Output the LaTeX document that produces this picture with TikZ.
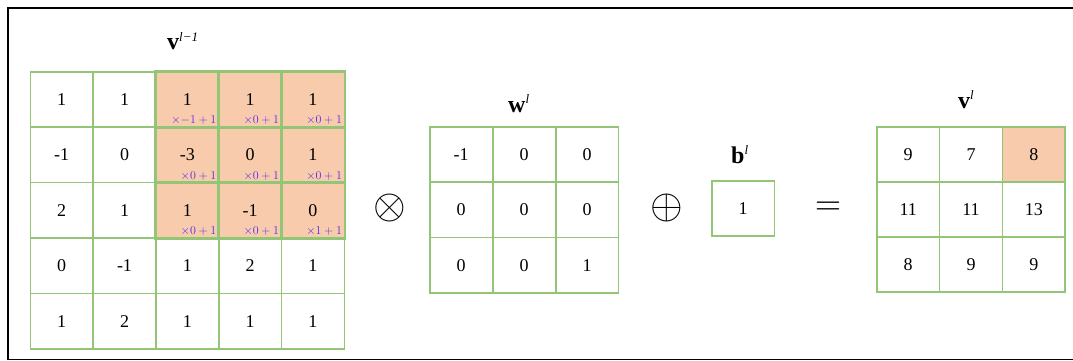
\documentclass[tikz,border=0pt]{standalone}
\usepackage{fontspec}
\setmainfont{Liberation Serif}
\definecolor{gridgreen}{RGB}{146,198,118}
\definecolor{peach}{RGB}{248,203,173}
\definecolor{annot}{RGB}{85,40,235}
\newcommand\boldlab[2]{{\fontsize{24}{24}\selectfont\bfseries #1}\raisebox{8.5pt}{\fontsize{13}{13}\selectfont\itshape #2}}
\tikzset{
  cell/.style={draw=gridgreen, line width=1.6pt, minimum width=62.8pt, minimum height=55.4pt,
    inner sep=0pt, font=\fontsize{18}{18}\selectfont, anchor=north west},
  hot/.style={fill=peach},
  ann/.style={font=\fontsize{12.5}{12.5}\selectfont, text=annot, inner sep=1pt, anchor=south east},
  lab/.style={inner sep=0pt, anchor=base west},
  oper/.style={inner sep=0pt},
  frame/.style={draw=black, line width=1.8pt}
}
\begin{document}
\begin{tikzpicture}[x=1pt,y=-1pt]
\useasboundingbox (0,0) rectangle (1073,361);
\clip (0,0) rectangle (1073,361);
\draw[frame] (8,8) rectangle (1095,359.5);

% grid v^{l-1}
\foreach \row [count=\r from 0] in {{1,1,1,1,1},{-1,0,-3,0,1},{2,1,1,-1,0},{0,-1,1,2,1},{1,2,1,1,1}}{
  \foreach \val [count=\c from 0] in \row {
    \pgfmathtruncatemacro\ishot{(\r<3)&&(\c>1)}
    \ifnum\ishot=1
      \node[cell,hot] (a-\r-\c) at ({29.5+\c*62.8},{71+\r*55.4}) {\val};
    \else
      \node[cell] (a-\r-\c) at ({29.5+\c*62.8},{71+\r*55.4}) {\val};
    \fi
  }
}
% redraw lines of orange cells on top
\foreach \r in {0,1,2}{\foreach \c in {2,3,4}{\draw[draw=gridgreen, line width=1.6pt] (a-\r-\c.north west) rectangle (a-\r-\c.south east);}}

% annotations
\node[ann] (n-0-2) at ([xshift=-2pt,yshift=2pt]a-0-2.south east) {$\times{-1}+1$};
\node[ann] (n-0-3) at ([xshift=-2pt,yshift=2pt]a-0-3.south east) {$\times0+1$};
\node[ann] (n-0-4) at ([xshift=-2pt,yshift=2pt]a-0-4.south east) {$\times0+1$};
\node[ann] (n-1-2) at ([xshift=-2pt,yshift=2pt]a-1-2.south east) {$\times0+1$};
\node[ann] (n-1-3) at ([xshift=-2pt,yshift=2pt]a-1-3.south east) {$\times0+1$};
\node[ann] (n-1-4) at ([xshift=-2pt,yshift=2pt]a-1-4.south east) {$\times0+1$};
\node[ann] (n-2-2) at ([xshift=-2pt,yshift=2pt]a-2-2.south east) {$\times0+1$};
\node[ann] (n-2-3) at ([xshift=-2pt,yshift=2pt]a-2-3.south east) {$\times0+1$};
\node[ann] (n-2-4) at ([xshift=-2pt,yshift=2pt]a-2-4.south east) {$\times1+1$};

% grid w^l
\foreach \row [count=\r from 0] in {{-1,0,0},{0,0,0},{0,0,1}}{
  \foreach \val [count=\c from 0] in \row {
    \node[cell] (w-\r-\c) at ({429+\c*63},{126+\r*55.3}) {\val};
  }
}

% bias
\node[cell] (b) at (711,180) {1};

% grid v^l
\foreach \row [count=\r from 0] in {{9,7,8},{11,11,13},{8,9,9}}{
  \foreach \val [count=\c from 0] in \row {
    \ifnum\r\c=02
      \node[cell,hot] (v-\r-\c) at ({876+\c*62.8},{126+\r*55}) {\val};
    \else
      \node[cell] (v-\r-\c) at ({876+\c*62.8},{126+\r*55}) {\val};
    \fi
  }
}

% labels
\node[lab] (la) at (167,50) {\boldlab{v}{l−1}};
\node[lab] (lw) at (508,112) {\boldlab{w}{l}};
\node[lab] (lb) at (731,163) {\boldlab{b}{l}};
\node[lab] (lv) at (958,108) {\boldlab{v}{l}};

% operators
\node[oper] (otimes) at (390,208) {\scalebox{4.2}{$\otimes$}};
\node[oper] (oplus) at (667,208) {\scalebox{4.2}{$\oplus$}};
\node[oper] (eq) at (828,208) {\scalebox{3.4}{$=$}};
\end{tikzpicture}
\end{document}
